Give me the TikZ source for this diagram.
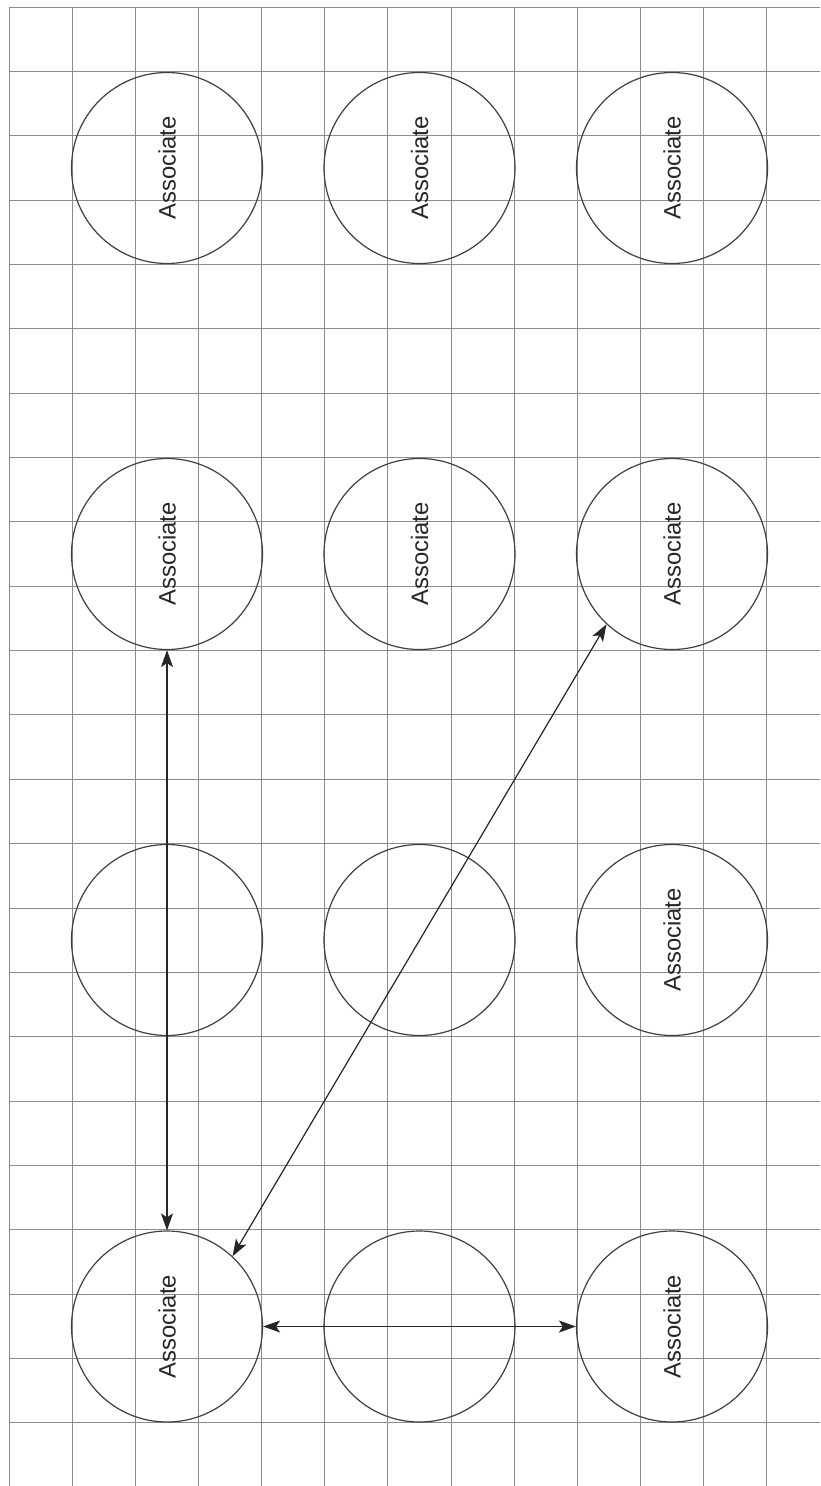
\documentclass[tikz,border=0pt]{standalone}
\usepackage{fontspec}
\setmainfont{Liberation Sans}
\usetikzlibrary{arrows.meta}

\begin{document}
\begin{tikzpicture}[>={Stealth[length=17pt,width=12pt,inset=4pt]},x=1pt,y=-1pt,
  assoc/.style={circle,draw=black!75,line width=1.2pt,minimum size=191pt,inner sep=0pt,
    font=\fontsize{23.8}{28}\selectfont,text=black!85},
  link/.style={<->,line width=1.2pt,draw=black!85}]

\useasboundingbox (0,0) rectangle (820,1486);
\fill[white] (0,0) rectangle (820,1486);

\def\xO{9}
\def\xD{63.15}
\def\yO{7}
\def\yD{64.36}

\foreach \k in {0,...,12}
  \draw[black!45,line width=1pt] (\xO+\k*\xD,\yO) -- (\xO+\k*\xD,1486);
\foreach \k in {0,...,22}
  \draw[black!45,line width=1pt] (\xO,\yO+\k*\yD) -- (820,\yO+\k*\yD);

\def\colA{167}
\def\colB{419.5}
\def\colC{672}
\def\rowA{168}
\def\rowB{554}
\def\rowC{940}
\def\rowD{1326.5}
\def\assoctext{\rotatebox{90}{Associate}}

\node[assoc] (a1) at (\colA,\rowA) {\assoctext};
\node[assoc] (a2) at (\colB,\rowA) {\assoctext};
\node[assoc] (a3) at (\colC,\rowA) {\assoctext};

\node[assoc] (b1) at (\colA,\rowB) {\assoctext};
\node[assoc] (b2) at (\colB,\rowB) {\assoctext};
\node[assoc] (b3) at (\colC,\rowB) {\assoctext};

\node[assoc] (c1) at (\colA,\rowC) {};
\node[assoc] (c2) at (\colB,\rowC) {};
\node[assoc] (c3) at (\colC,\rowC) {\assoctext};

\node[assoc] (d1) at (\colA,\rowD) {\assoctext};
\node[assoc] (d2) at (\colB,\rowD) {};
\node[assoc] (d3) at (\colC,\rowD) {\assoctext};

\draw[link] (b1.south) -- (d1.north);
\draw[link] (d1.47) -- (b3.227);
\draw[link] (d1.east) -- (d3.west);

\end{tikzpicture}
\end{document}
